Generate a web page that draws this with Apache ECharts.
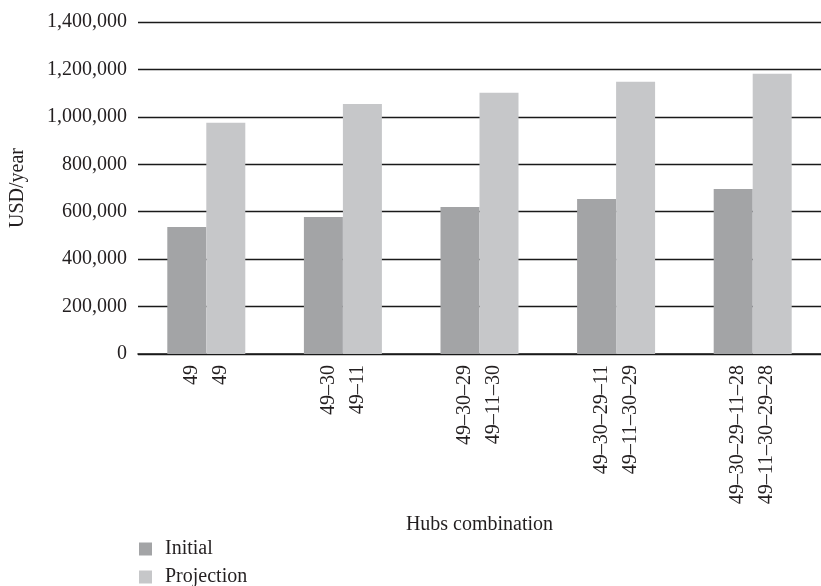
<!DOCTYPE html>
<html>
<head>
<meta charset="utf-8">
<title>Hubs combination cost</title>
<script src="https://cdn.jsdelivr.net/npm/echarts@6/dist/echarts.min.js"></script>
<style>
  html, body { margin: 0; padding: 0; background: #ffffff; }
  #chart { width: 821px; height: 586px; }
</style>
</head>
<body>
<div id="chart"></div>
<script>
// Hub combinations for each scenario, one per bar
const initialHubs = ['49', '49\u201330', '49\u201330\u201329', '49\u201330\u201329\u201311', '49\u201330\u201329\u201311\u201328'];
const projectionHubs = ['49', '49\u201311', '49\u201311\u201330', '49\u201311\u201330\u201329', '49\u201311\u201330\u201329\u201328'];

// Annual cost (USD/year)
const initialValues = [536000, 578000, 620000, 654000, 696000];
const projectionValues = [975000, 1054000, 1102000, 1148000, 1182000];

// Value axis ticks
const yTicks = [0, 200000, 400000, 600000, 800000, 1000000, 1200000, 1400000];

const seriesNames = ['Initial', 'Projection'];

const FONT = '"Liberation Serif", "DejaVu Serif", serif';
const TEXT = '#231f20';

// Each category carries both bar labels; rotated, the two lines sit side by side
const categories = initialHubs.map((h, i) => h + '\n' + projectionHubs[i]);

const chart = echarts.init(document.getElementById('chart'), null, { renderer: 'canvas' });

chart.setOption({
  animation: false,
  backgroundColor: '#ffffff',
  textStyle: { fontFamily: FONT, color: TEXT },
  grid: { left: 138, top: 22, width: 690, height: 332, containLabel: false },
  legend: {
    orient: 'vertical',
    left: 139,
    top: 539,
    height: 60,
    padding: 0,
    itemWidth: 13,
    itemHeight: 13,
    itemGap: 8,
    icon: 'rect',
    data: seriesNames,
    textStyle: { fontFamily: FONT, fontSize: 20, color: TEXT, lineHeight: 20, padding: [0, 0, 0, 8] }
  },
  xAxis: {
    type: 'category',
    data: categories,
    name: 'Hubs combination',
    nameLocation: 'middle',
    nameGap: 161,
    nameTextStyle: { fontFamily: FONT, fontSize: 20, color: TEXT },
    axisLine: { show: true, lineStyle: { color: '#1a1a1a', width: 1.6 } },
    axisTick: { show: false },
    axisLabel: {
      rotate: 90,
      margin: 11,
      interval: 0,
      fontFamily: FONT,
      fontSize: 20,
      lineHeight: 29,
      color: TEXT
    }
  },
  yAxis: {
    type: 'value',
    min: yTicks[0],
    max: yTicks[yTicks.length - 1],
    interval: yTicks[1] - yTicks[0],
    name: 'USD/year',
    nameLocation: 'middle',
    nameRotate: 90,
    nameGap: 110,
    nameTextStyle: { fontFamily: FONT, fontSize: 20, color: TEXT },
    axisLine: { show: false },
    axisTick: { show: false },
    axisLabel: {
      margin: 11,
      fontFamily: FONT,
      fontSize: 20,
      color: TEXT,
      formatter: v => v.toLocaleString('en-US')
    },
    splitLine: { show: true, lineStyle: { color: '#1a1a1a', width: 1.4 } }
  },
  series: [
    {
      name: seriesNames[0],
      type: 'bar',
      data: initialValues,
      barWidth: 39,
      barGap: '0%',
      itemStyle: { color: '#a3a4a6' }
    },
    {
      name: seriesNames[1],
      type: 'bar',
      data: projectionValues,
      barWidth: 39,
      barGap: '0%',
      itemStyle: { color: '#c6c7c9' }
    }
  ]
});
</script>
</body>
</html>
